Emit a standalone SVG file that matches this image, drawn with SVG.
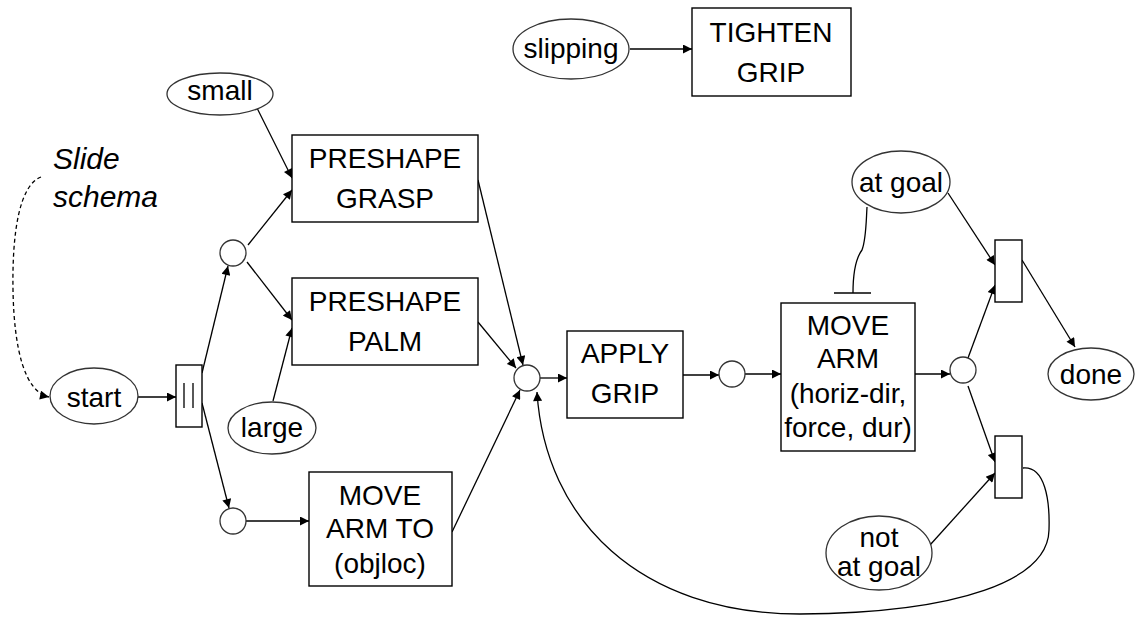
<svg xmlns="http://www.w3.org/2000/svg" width="1136" height="617" viewBox="0 0 1136 617">
  <style>
    .box { fill: #fff; stroke: #000; stroke-width: 1.4; }
    .place { fill: #fff; stroke: #333; stroke-width: 1.3; }
    .lbl { font-family: "Liberation Sans", Arial, sans-serif; font-size: 28px; fill: #000; text-anchor: middle; }
    .note { font-family: "Liberation Sans", Arial, sans-serif; font-size: 30px; font-style: italic; fill: #000; }
    .edge { fill: none; stroke: #000; stroke-width: 1.3; }
    .arrow { marker-end: url(#head); }
  </style>
  <defs>
    <marker id="head" viewBox="0 0 10 10" refX="10" refY="5" markerWidth="11" markerHeight="9" markerUnits="userSpaceOnUse" orient="auto">
      <path d="M0,0 L10,5 L0,10 z" fill="#000"/>
    </marker>
  </defs>
  <rect width="1136" height="617" fill="#fff"/>

  <!-- connectors -->
  <g id="connectors">
    <path class="edge arrow" d="M41,177 C20,185 12,230 13,290 C14,350 25,392 49,397" stroke-dasharray="4,3"/>
    <path class="edge arrow" d="M138,397 L176,397"/>
    <path class="edge arrow" d="M202,373 L228,266"/>
    <path class="edge arrow" d="M202,403 L229,508"/>
    <path class="edge arrow" d="M248,245 L292,190"/>
    <path class="edge arrow" d="M247,262 L292,320"/>
    <path class="edge arrow" d="M257,108 L292,178"/>
    <path class="edge arrow" d="M273,401 L292,328"/>
    <path class="edge arrow" d="M246,521 L309,521"/>
    <path class="edge arrow" d="M478,180 L523,365"/>
    <path class="edge arrow" d="M478,322 L516,368"/>
    <path class="edge arrow" d="M452,532 L520,390"/>
    <path class="edge arrow" d="M540,378 L567,378"/>
    <path class="edge arrow" d="M683,375 L719,375"/>
    <path class="edge arrow" d="M745,374 L781,374"/>
    <path class="edge arrow" d="M915,374 L950,374"/>
    <path class="edge arrow" d="M968,358 L995,285"/>
    <path class="edge arrow" d="M968,386 L995,462"/>
    <path class="edge arrow" d="M948,193 L995,265"/>
    <path class="edge arrow" d="M930,545 L995,473"/>
    <path class="edge arrow" d="M1022,260 L1075,347"/>
    <path class="edge arrow" d="M630,49 L692,49"/>
    <!-- loop back to the merge place -->
    <path class="edge arrow" d="M1023,468 C1045,466 1050,500 1049,530 C1048,580 960,613 800,614 C640,614 545,520 537,392"/>
    <!-- inhibition from "at goal" -->
    <path class="edge" d="M867,207 C866,225 866,240 862,250 C856,258 853,270 853,293"/>
    <path class="edge" d="M834,293 H871"/>
  </g>

  <!-- annotation -->
  <g id="note">
    <text class="note" x="53" y="169">Slide</text>
    <text class="note" x="53" y="207">schema</text>
  </g>

  <!-- condition ellipses -->
  <g id="small"><ellipse class="place" cx="220" cy="94" rx="53" ry="21"/><text class="lbl" x="220" y="100">small</text></g>
  <g id="start"><ellipse class="place" cx="94" cy="396" rx="44" ry="28"/><text class="lbl" x="94" y="407">start</text></g>
  <g id="large"><ellipse class="place" cx="272" cy="428" rx="44" ry="26"/><text class="lbl" x="272" y="437">large</text></g>
  <g id="slipping"><ellipse class="place" cx="571" cy="49" rx="58" ry="30"/><text class="lbl" x="571" y="58">slipping</text></g>
  <g id="at-goal"><ellipse class="place" cx="901" cy="182" rx="49" ry="31"/><text class="lbl" x="901" y="192">at goal</text></g>
  <g id="done"><ellipse class="place" cx="1091" cy="374" rx="43" ry="26"/><text class="lbl" x="1091" y="384">done</text></g>
  <g id="not-at-goal"><ellipse class="place" cx="879" cy="553" rx="53" ry="37"/><text class="lbl" x="879" y="547">not</text><text class="lbl" x="879" y="576">at goal</text></g>

  <!-- places -->
  <g id="p1"><circle class="place" cx="233" cy="253" r="13"/></g>
  <g id="p2"><circle class="place" cx="233" cy="521" r="13"/></g>
  <g id="p-merge"><circle class="place" cx="527" cy="378" r="13"/></g>
  <g id="p3"><circle class="place" cx="732" cy="374" r="13"/></g>
  <g id="p4"><circle class="place" cx="963" cy="370" r="13"/></g>

  <!-- transitions -->
  <g id="fork">
    <rect class="box" x="176" y="365" width="26" height="62"/>
    <path class="edge" d="M184,383 V408 M193,383 V408"/>
  </g>
  <g id="join-goal"><rect class="box" x="995" y="240" width="27" height="62"/></g>
  <g id="join-not-goal"><rect class="box" x="995" y="436" width="27" height="62"/></g>

  <!-- schemas -->
  <g id="preshape-grasp"><rect class="box" x="292" y="135" width="186" height="87"/><text class="lbl" x="385" y="168">PRESHAPE</text><text class="lbl" x="385" y="208">GRASP</text></g>
  <g id="preshape-palm"><rect class="box" x="292" y="278" width="186" height="87"/><text class="lbl" x="385" y="311">PRESHAPE</text><text class="lbl" x="385" y="351">PALM</text></g>
  <g id="move-arm-to"><rect class="box" x="309" y="472" width="143" height="114"/><text class="lbl" x="380" y="505">MOVE</text><text class="lbl" x="380" y="538">ARM TO</text><text class="lbl" x="380" y="573">(objloc)</text></g>
  <g id="apply-grip"><rect class="box" x="567" y="331" width="116" height="87"/><text class="lbl" x="625" y="363">APPLY</text><text class="lbl" x="625" y="403">GRIP</text></g>
  <g id="move-arm"><rect class="box" x="781" y="303" width="134" height="148"/><text class="lbl" x="848" y="335">MOVE</text><text class="lbl" x="848" y="368">ARM</text><text class="lbl" x="848" y="403">(horiz-dir,</text><text class="lbl" x="848" y="437">force, dur)</text></g>
  <g id="tighten-grip"><rect class="box" x="692" y="8" width="159" height="88"/><text class="lbl" x="771" y="42">TIGHTEN</text><text class="lbl" x="771" y="82">GRIP</text></g>
</svg>
